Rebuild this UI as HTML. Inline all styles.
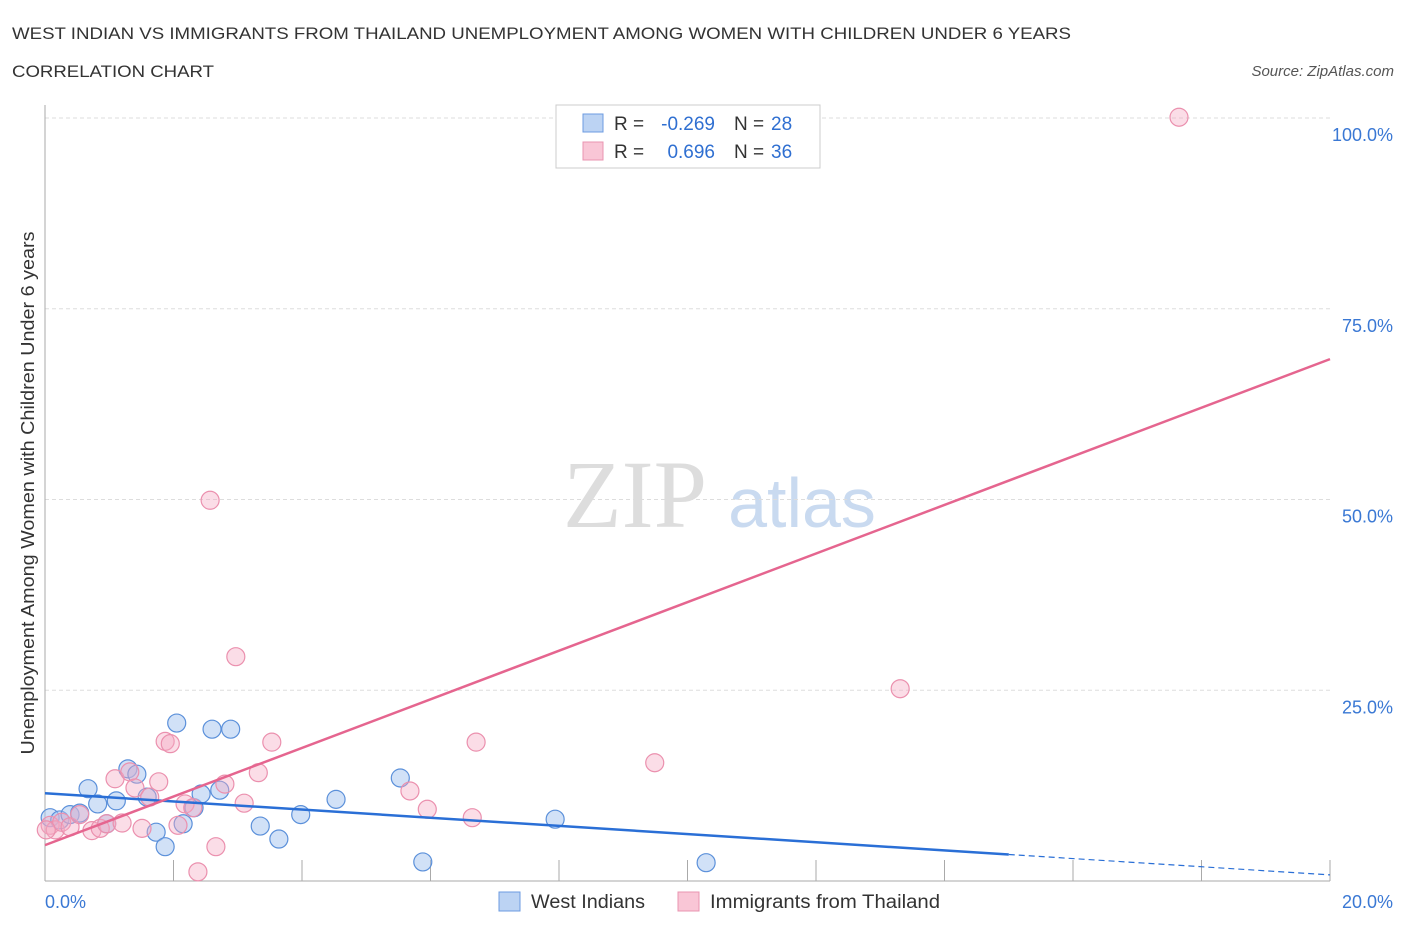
<!DOCTYPE html>
<html><head><meta charset="utf-8"><style>
body{margin:0;background:#fff;font-family:"Liberation Sans",sans-serif}
</style></head><body>
<svg id="c" width="1406" height="930" font-family="Liberation Sans, sans-serif">
<text x="12" y="39" font-size="17" fill="#333" textLength="1059" lengthAdjust="spacingAndGlyphs">WEST INDIAN VS IMMIGRANTS FROM THAILAND UNEMPLOYMENT AMONG WOMEN WITH CHILDREN UNDER 6 YEARS</text>
<text x="12" y="77" font-size="17" fill="#333" textLength="202" lengthAdjust="spacingAndGlyphs">CORRELATION CHART</text>
<text x="1394" y="76" font-size="15" fill="#555" text-anchor="end" font-style="italic">Source: ZipAtlas.com</text>
<text x="635" y="527" font-size="96" fill="#ddd" text-anchor="middle" style="font-family:'Liberation Serif',serif">ZIP</text>
<text x="802" y="527" font-size="70" fill="#c9daf0" text-anchor="middle">atlas</text>
<text transform="translate(34,493) rotate(-90)" font-size="18" fill="#333" text-anchor="middle" textLength="523" lengthAdjust="spacingAndGlyphs">Unemployment Among Women with Children Under 6 years</text>
<g id="grid"></g><g id="marks"></g>
<g>
<rect x="556" y="105" width="264" height="63" fill="#fff" stroke="#ccc"/>
<rect x="583" y="114" width="20" height="18" fill="#bcd3f3" stroke="#6c9be0"/>
<rect x="583" y="142" width="20" height="18" fill="#f9c6d6" stroke="#e994b0"/>
<text x="614" y="130" font-size="19" fill="#333">R =</text>
<text x="715" y="130" font-size="19" fill="#2f6fd1" text-anchor="end">-0.269</text>
<text x="734" y="130" font-size="19" fill="#333">N =</text>
<text x="771" y="130" font-size="19" fill="#2f6fd1">28</text>
<text x="614" y="158" font-size="19" fill="#333">R =</text>
<text x="715" y="158" font-size="19" fill="#2f6fd1" text-anchor="end">0.696</text>
<text x="734" y="158" font-size="19" fill="#333">N =</text>
<text x="771" y="158" font-size="19" fill="#2f6fd1">36</text>
</g>
<g>
<rect x="499" y="892" width="21" height="19" fill="#bcd3f3" stroke="#6c9be0"/>
<text x="531" y="908" font-size="19" fill="#333" textLength="114" lengthAdjust="spacingAndGlyphs">West Indians</text>
<rect x="678" y="892" width="21" height="19" fill="#f9c6d6" stroke="#e994b0"/>
<text x="710" y="908" font-size="19" fill="#333" textLength="230" lengthAdjust="spacingAndGlyphs">Immigrants from Thailand</text>
</g>
</svg>
<script>
const yTicks=[25,50,75,100];
const yTickLabels=["25.0%","50.0%","75.0%","100.0%"];
const xTickLabels=["0.0%","20.0%"];
const blueX=[0.08,0.23,0.39,0.54,0.67,0.82,1.11,0.96,1.29,1.43,1.59,1.73,1.87,2.05,2.15,2.32,2.43,2.60,2.72,2.89,3.35,3.64,3.98,4.53,5.53,5.88,7.94,10.29];
const blueY=[8.3,8.0,8.7,8.9,12.1,10.1,10.5,7.5,14.7,14.0,11.0,6.4,4.5,20.7,7.5,9.6,11.4,19.9,11.9,19.9,7.2,5.5,8.7,10.7,13.5,2.5,8.1,2.4];
const pinkX=[0.08,0.16,0.26,0.39,0.54,0.73,0.86,0.96,1.09,1.20,1.32,1.40,1.51,1.63,1.77,1.87,1.95,2.07,2.18,2.30,2.38,2.57,2.66,2.80,2.97,3.10,3.32,3.53,5.68,5.95,6.65,6.71,9.49,13.31,17.65,0.02];
const pinkY=[7.3,6.7,7.7,7.1,8.7,6.6,6.9,7.5,13.4,7.6,14.3,12.2,6.9,11.0,13.0,18.3,18.0,7.3,10.1,9.6,1.2,49.9,4.5,12.7,29.4,10.2,14.2,18.2,11.8,9.4,8.3,18.2,15.5,25.2,100.1,6.7];
const blueLine=[11.5,-0.535];
const pinkLine=[4.7,3.185];
const X0=45,X1=1330,Y0=881,Y1=118;
const sx=v=>X0+(v/20)*(X1-X0), sy=v=>Y0-(v/100)*(Y0-Y1);
const NS="http://www.w3.org/2000/svg";
const grid=document.getElementById('grid'),marks=document.getElementById('marks');
function mk(p,tag,a){const e=document.createElementNS(NS,tag);for(const k in a)e.setAttribute(k,a[k]);p.appendChild(e);return e;}
yTicks.forEach((t,i)=>{
 const l=mk(grid,'line',{x1:X0,x2:X1,y1:sy(t),y2:sy(t),stroke:'#ddd','stroke-dasharray':'4,3'});
 
 
 const tx=mk(grid,'text',{x:1393,y:sy(t)+23,'font-size':18,fill:'#3a78d4','text-anchor':'end'});
 tx.textContent=yTickLabels[i];
 
 
});
mk(grid,'line',{x1:X0,x2:X0,y1:105,y2:Y0,stroke:'#aaa'});
mk(grid,'line',{x1:X0,x2:X1,y1:Y0,y2:Y0,stroke:'#aaa'});
for(let i=1;i<=10;i++){const x=sx(i*2);mk(grid,'line',{x1:x,x2:x,y1:860,y2:Y0,stroke:'#aaa'});}
[[0,'start',45],[20,'end',1393]].forEach((d,i)=>{
 const tx=mk(grid,'text',{x:d[2],y:908,'font-size':18,fill:'#3a78d4','text-anchor':d[1]});
 tx.textContent=xTickLabels[i];
 
 
});
blueX.forEach((x,i)=>{
 const c=mk(marks,'circle',{cx:sx(x),cy:sy(blueY[i]),r:9,fill:'rgba(163,196,240,0.5)',stroke:'#5b90da','stroke-width':1.2});
 
 
});
pinkX.forEach((x,i)=>{
 const c=mk(marks,'circle',{cx:sx(x),cy:sy(pinkY[i]),r:9,fill:'rgba(244,170,195,0.4)',stroke:'#eb90ae','stroke-width':1.2});
 
 
});
const bl=mk(marks,'line',{x1:sx(0),y1:sy(blueLine[0]),x2:sx(15),y2:sy(blueLine[0]+blueLine[1]*15),stroke:'#2a6fd6','stroke-width':2.5});


const bd=mk(marks,'line',{x1:sx(15),y1:sy(blueLine[0]+blueLine[1]*15),x2:sx(20),y2:sy(blueLine[0]+blueLine[1]*20),stroke:'#2a6fd6','stroke-width':1.2,'stroke-dasharray':'6,4'});


const pl=mk(marks,'line',{x1:sx(0),y1:sy(pinkLine[0]),x2:sx(20),y2:sy(pinkLine[0]+pinkLine[1]*20),stroke:'#e5658f','stroke-width':2.5});


</script>
</body></html>
